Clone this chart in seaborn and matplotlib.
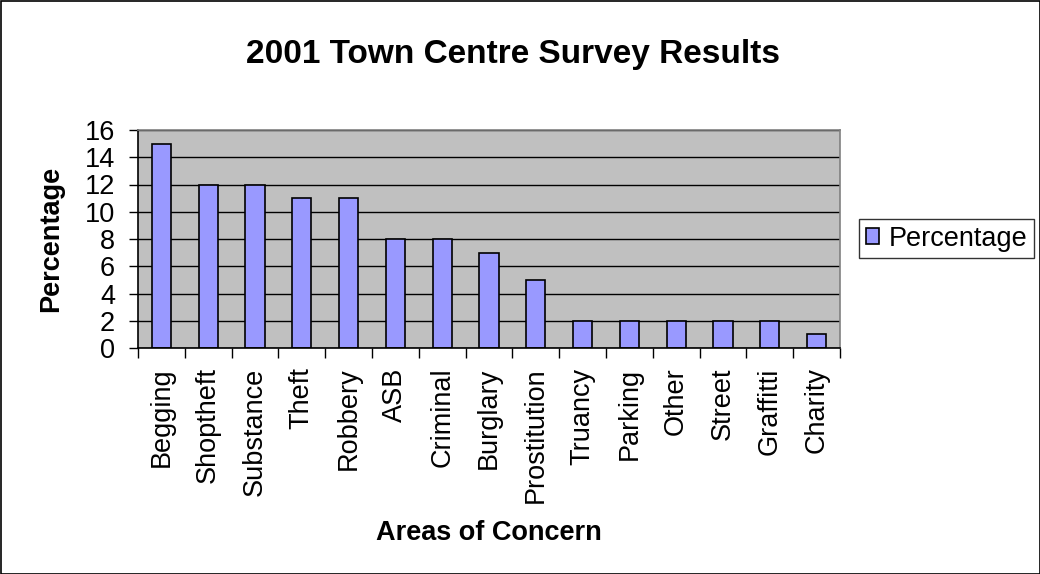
import matplotlib
matplotlib.use("Agg")
import matplotlib.pyplot as plt
import seaborn as sns
import pandas as pd
import numpy as np
from matplotlib.patches import Rectangle

categories = ["Begging", "Shoptheft", "Substance", "Theft", "Robbery", "ASB", "Criminal",
              "Burglary", "Prostitution", "Truancy", "Parking", "Other", "Street", "Graffitti", "Charity"]
values = [15, 12, 12, 11, 11, 8, 8, 7, 5, 2, 2, 2, 2, 2, 1]
y_ticks = [0, 2, 4, 6, 8, 10, 12, 14, 16]
series_name = "Percentage"

sns.set_style("white")
plt.rcParams['font.family'] = ['Liberation Sans', 'DejaVu Sans']
plt.rcParams.update({"text.color": "black", "axes.labelcolor": "black",
                     "xtick.color": "black", "ytick.color": "black"})

df = pd.DataFrame({"Area": categories, "Percentage": values})

fig = plt.figure(figsize=(10.4, 5.74), dpi=100)
ax = fig.add_axes([138/1040, 1 - 348/574, 702/1040, 218/574])
ax.set_facecolor("#C0C0C0")

sns.barplot(data=df, x="Area", y="Percentage", color="#9999FF", edgecolor="black",
            linewidth=1.2, width=0.41, saturation=1, ax=ax, label=series_name)

ax.set_ylim(0, 16)
ax.set_xlim(-0.5, len(categories) - 0.5)
ax.set_yticks(y_ticks)
ax.set_yticklabels([str(t) for t in y_ticks], fontsize=19.5)
ax.yaxis.grid(True, color="black", linewidth=1)
ax.set_axisbelow(True)
ax.tick_params(axis="y", which="major", length=6.5, width=1, color="black", direction="out", pad=10, left=True)

ax.set_xticks(range(len(categories)))
ax.set_xticklabels(categories, rotation=90, fontsize=19.5, va="top")
ax.tick_params(axis="x", which="major", length=0, pad=14)
ax.set_xticks(np.arange(-0.5, len(categories), 1.0), minor=True)
ax.tick_params(axis="x", which="minor", length=7, width=1, color="black", direction="out", bottom=True)

for s in ["left", "bottom"]:
    ax.spines[s].set_color("black")
    ax.spines[s].set_linewidth(1.2)
for s in ["top", "right"]:
    ax.spines[s].set_color("#808080")
    ax.spines[s].set_linewidth(1.2)

ax.set_xlabel("Areas of Concern", fontsize=19.5, fontweight="bold")
ax.xaxis.set_label_coords((489 - 138) / 702, -(520 - 348) / 218)
ax.set_ylabel("Percentage", fontsize=19.5, fontweight="bold")
ax.yaxis.set_label_coords(-(138 - 64) / 702, 0.5)

fig.suptitle("2001 Town Centre Survey Results", fontsize=24, fontweight="bold", x=513/1040, y=1 - 55/574, va="center")

leg = ax.legend(loc="center left", bbox_to_anchor=(859/1040, 1 - 238.5/574), bbox_transform=fig.transFigure,
                fontsize=19.5, frameon=True, fancybox=False, edgecolor="black", handlelength=0.5,
                handleheight=0.5, handletextpad=0.35, borderpad=0.25, borderaxespad=0)
leg.get_frame().set_linewidth(1)

fig.patches.append(Rectangle((0.5/1040, 0.5/574), 1 - 1/1040, 1 - 1/574, transform=fig.transFigure,
                             fill=False, edgecolor="black", linewidth=1.2))

fig.savefig("out.png", dpi=100)
